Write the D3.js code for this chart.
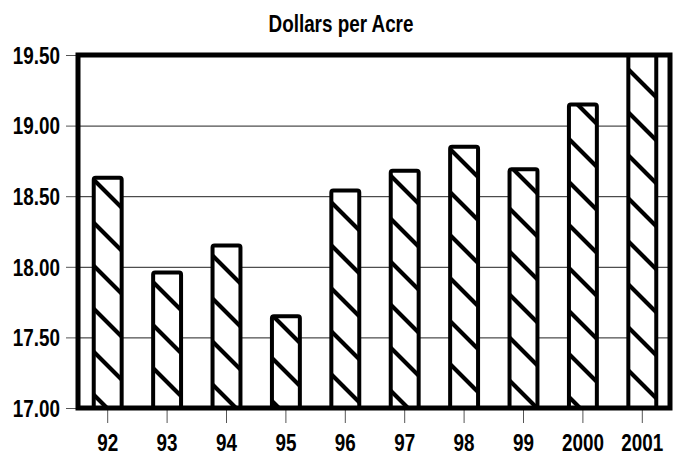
<!DOCTYPE html>
<html>
<head>
<meta charset="utf-8">
<script src="https://cdn.jsdelivr.net/npm/d3@7.9.0/dist/d3.min.js"></script>
<style>
  html, body { margin: 0; padding: 0; background: #fff; }
  svg { display: block; }
  text { font-family: "Liberation Sans", Arial, sans-serif; font-weight: bold; fill: #000; }
</style>
</head>
<body>
<div id="chart"></div>
<script>
const years  = ['92', '93', '94', '95', '96', '97', '98', '99', '2000', '2001'];
const values = [18.63, 17.96, 18.15, 17.65, 18.54, 18.68, 18.85, 18.69, 19.15, 19.50];
const yTicks = [17.0, 17.5, 18.0, 18.5, 19.0, 19.5];
const title  = 'Dollars per Acre';

const width = 674, height = 457;
const margin = { top: 55, right: 2, bottom: 49, left: 78 };
const usable = {
  left:   margin.left,
  top:    margin.top,
  right:  width - margin.right,
  bottom: height - margin.bottom
};
const squeeze = 0.82; // the original font is a narrow face

// narrow the text horizontally, keeping its anchor point
function narrow(sel) {
  sel.each(function () {
    const t = d3.select(this);
    const x0 = +t.attr('x') || 0;
    t.attr('x', x0 / squeeze).attr('transform', `scale(${squeeze},1)`);
  });
}

const svg = d3.select('#chart')
  .append('svg')
  .attr('width', width)
  .attr('height', height);

const defs = svg.append('defs');

// diagonal hatch, lines running down to the right
const hs = 43;
defs.append('pattern')
  .attr('id', 'hatch')
  .attr('patternUnits', 'userSpaceOnUse')
  .attr('width', hs)
  .attr('height', hs)
  .call(p => {
    p.append('rect').attr('width', hs).attr('height', hs).attr('fill', '#fff');
    p.append('path')
      .attr('d', `M0,0L${hs},${hs}M${-hs/2},${hs/2}L${hs/2},${hs*1.5}M${hs/2},${-hs/2}L${hs*1.5},${hs/2}`)
      .attr('stroke', '#000')
      .attr('stroke-width', 4.2);
  });

defs.append('clipPath')
  .attr('id', 'plot-clip')
  .append('rect')
  .attr('x', usable.left)
  .attr('y', usable.top)
  .attr('width', usable.right - usable.left)
  .attr('height', usable.bottom - usable.top);

const x = d3.scaleBand()
  .domain(years)
  .range([usable.left, usable.right])
  .paddingInner(0.53)
  .paddingOuter(0.265);

const y = d3.scaleLinear()
  .domain([17, 19.5])
  .range([usable.bottom, usable.top]);

// gridlines
svg.append('g')
  .attr('class', 'gridlines')
  .attr('transform', `translate(${usable.left},0)`)
  .call(d3.axisLeft(y).tickValues(yTicks).tickFormat('').tickSize(-(usable.right - usable.left)))
  .call(g => g.select('.domain').remove())
  .call(g => g.selectAll('line').attr('stroke', '#222').attr('stroke-width', 1));

// bars
svg.append('g')
  .attr('clip-path', 'url(#plot-clip)')
  .selectAll('rect')
  .data(years.map((yr, i) => ({ yr, v: values[i] })))
  .join('rect')
    .attr('x', d => x(d.yr))
    .attr('y', d => y(d.v))
    .attr('width', x.bandwidth())
    .attr('height', d => y(17) - y(d.v))
    .attr('rx', 2)
    .attr('fill', 'url(#hatch)')
    .attr('stroke', '#000')
    .attr('stroke-width', 4);

// y axis ticks + labels
svg.append('g')
  .attr('transform', `translate(${usable.left},0)`)
  .call(d3.axisLeft(y).tickValues(yTicks).tickFormat(d3.format('.2f')).tickSize(12).tickPadding(6))
  .call(g => g.select('.domain').remove())
  .call(g => g.selectAll('line').attr('stroke', '#555'))
  .call(g => g.selectAll('text')
    .attr('font-size', 23)
    .attr('font-family', null)
    .attr('dy', '0.36em')
    .call(narrow));

// x axis ticks + labels
svg.append('g')
  .attr('transform', `translate(0,${usable.bottom})`)
  .call(d3.axisBottom(x).tickSize(15).tickPadding(12))
  .call(g => g.select('.domain').remove())
  .call(g => g.selectAll('line').attr('stroke', '#555'))
  .call(g => g.selectAll('text')
    .attr('font-size', 23)
    .attr('font-family', null)
    .call(narrow));

// frame
svg.append('rect')
  .attr('x', usable.left)
  .attr('y', usable.top)
  .attr('width', usable.right - usable.left - 2)
  .attr('height', usable.bottom - usable.top)
  .attr('fill', 'none')
  .attr('stroke', '#000')
  .attr('stroke-width', 5);

svg.append('text')
  .attr('x', 341)
  .attr('y', 32)
  .attr('text-anchor', 'middle')
  .attr('font-size', 23)
  .text(title)
  .call(narrow);
</script>
</body>
</html>
